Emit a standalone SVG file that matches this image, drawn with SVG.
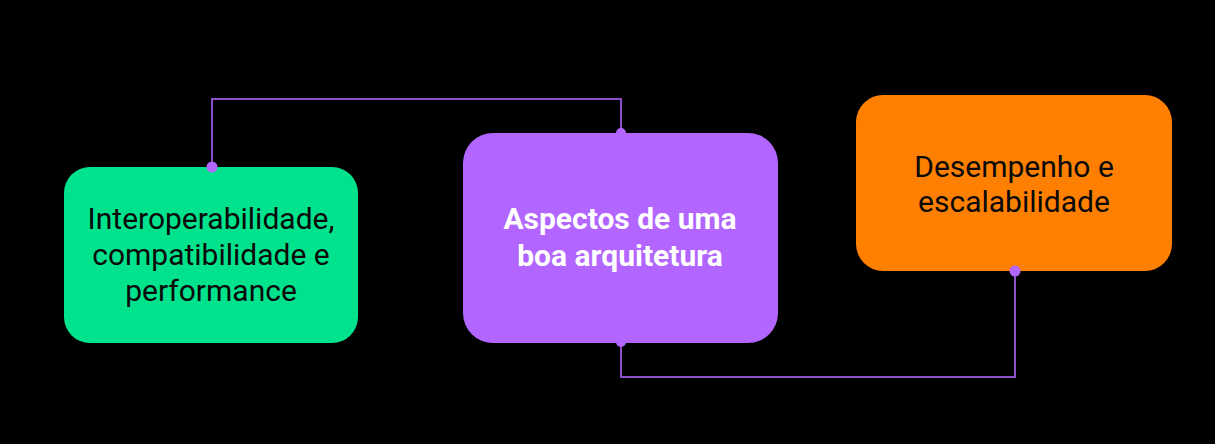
<svg xmlns="http://www.w3.org/2000/svg" width="1215" height="444" viewBox="0 0 1215 444">
<style>
.t{font-family:Roboto,"Liberation Sans",sans-serif;font-size:30px;text-anchor:middle;fill:#0a0a0a}
.b{font-weight:bold;fill:#ffffff}
.conn{fill:none;stroke:#8a4fc9;stroke-width:2}
.dot{fill:#b266ff}
</style>
<rect width="1215" height="444" fill="#000"/>
<g id="connectors">
<path class="conn" d="M212,167 V99 H621 V133"/>
<path class="conn" d="M621,342 V377 H1015 V271"/>
</g>
<g id="node-green">
<rect x="64" y="167" width="294" height="176" rx="26" fill="#00e38c"/>
<text class="t" x="211" y="229">Interoperabilidade,</text>
<text class="t" x="211" y="265">compatibilidade e</text>
<text class="t" x="211" y="301">performance</text>
</g>
<g id="node-purple">
<rect x="463" y="133" width="315" height="210" rx="30" fill="#b266ff"/>
<text class="t b" x="620" y="229">Aspectos de uma</text>
<text class="t b" x="620" y="266">boa arquitetura</text>
</g>
<g id="node-orange">
<rect x="856" y="95" width="316" height="176" rx="27" fill="#ff7f00"/>
<text class="t" x="1014" y="177">Desempenho e</text>
<text class="t" x="1014" y="212">escalabilidade</text>
</g>
<g id="dots">
<circle class="dot" cx="212" cy="167" r="5.5"/>
<circle class="dot" cx="621" cy="133" r="5"/>
<circle class="dot" cx="621" cy="342" r="5"/>
<circle class="dot" cx="1015" cy="271" r="5.5"/>
</g>
</svg>
